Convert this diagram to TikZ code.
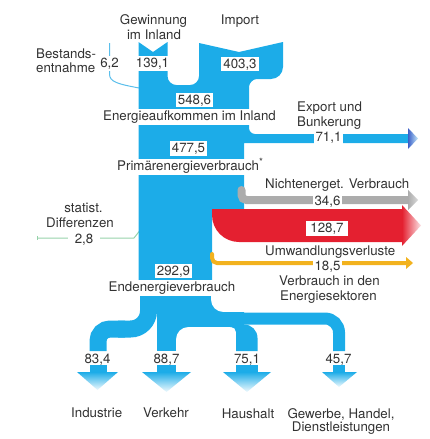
\documentclass[tikz,border=0pt]{standalone}
\usepackage{fontspec}
\setmainfont{TeX Gyre Heros}
\definecolor{mblue}{RGB}{28,172,232}
\definecolor{mred}{RGB}{228,32,48}
\definecolor{mgray}{RGB}{172,172,172}
\definecolor{mylw}{RGB}{242,178,30}
\definecolor{mgreen}{RGB}{150,210,170}
\definecolor{lblue}{RGB}{90,190,235}
\definecolor{txt}{RGB}{50,50,50}
\definecolor{expd}{RGB}{60,95,200}
\begin{document}
\begin{tikzpicture}[x=1pt,y=-1pt,
  lbl/.style={font=\fontsize{13.3}{15}\selectfont, text=txt, inner sep=0pt, anchor=base},
  num/.style={lbl, fill=white, inner xsep=2pt, inner ysep=1.8pt, text height=9.6pt, text depth=1pt},
  bandlbl/.style={lbl, fill=white, inner xsep=2pt, inner ysep=1.7pt, text height=9.8pt, text depth=2.8pt},
  flow/.style={fill=mblue},
  thinline/.style={line width=1pt}
]
\useasboundingbox (0,0) rectangle (430,439);

% thin side flows
\draw[thinline, lblue] (109.5,43) -- (109.5,74) .. controls (109.5,82) and (118,84) .. (139,88);
\draw[thinline, mgreen] (37,238) -- (134,238) -- (139.5,231);
\draw[thinline, mgreen] (37,236) -- (37,240);

% main trunk
\fill[flow] (138.5,42) -- (153,52) -- (167.5,42) -- (167.5,76)
  .. controls (167.5,81) and (171.5,85) .. (176.5,85) -- (190,85)
  .. controls (195,85) and (199,81) .. (199,76) -- (199,43) -- (239,52) -- (283,42) -- (283,67)
  .. controls (283,73.6) and (277.6,79) .. (271,79) -- (257,79)
  .. controls (252.6,79) and (249,83.4) .. (249,87) -- (249,128)
  .. controls (249,131.3) and (251.7,134) .. (255,134) -- (408,134) -- (408,143)
  -- (244,143) -- (244,209) -- (212,209) -- (212,290) -- (138.5,290) -- cycle;

% export head
\shade[left color=expd, right color=mblue!25] (408,128) -- (418,138.5) -- (408,149) -- cycle;

% non-energetic (gray)
\draw[mgray, line width=8pt, rounded corners=5pt, line cap=round] (241.5,190) -- (241.5,200) -- (408,200);
\shade[left color=mgray, right color=mgray!45] (408,190) -- (418,200) -- (408,210) -- cycle;

% conversion losses (red)
\fill[mred] (212,209) -- (402,209) -- (402,242) -- (239,242)
  .. controls (224.1,242) and (212,229.9) .. (212,215) -- cycle;
\shade[left color=mred, right color=mred!12] (402,205) -- (421,225.5) -- (402,246) -- cycle;

% energy sector (yellow)
\draw[mylw, line width=4pt, rounded corners=5pt, line cap=round] (212,254) -- (212,263) -- (407,263);
\fill[mylw] (406,257) -- (413,263) -- (406,269) -- cycle;

% lower part
\fill[flow] (140,294) rectangle (211,305);
\fill[flow] (176,294) rectangle (211,327);
\fill[flow] (176,312) rectangle (240,327);
\fill[flow] (157,294) rectangle (176,351);
\fill[flow] (211,312) -- (211,300) .. controls (211,306.6) and (216.4,312) .. (223,312) -- cycle;
\fill[flow] (176,327) -- (176,339) .. controls (176,332.4) and (181.4,327) .. (188,327) -- cycle;
\draw[mblue, line width=17pt, rounded corners=18pt] (148.5,294) -- (148.5,329) -- (118,329);
\draw[mblue, line width=17pt, rounded corners=12pt] (125,329) -- (98,329) -- (98,351);
\draw[mblue, line width=12pt, rounded corners=14pt] (230,318.5) -- (339,318.5) -- (339,351);
\fill[flow] (230,312) -- (244,312) -- (244,324.5) .. controls (251.5,324.5) and (257.5,330.5) .. (257.5,338)
  -- (257.5,351) -- (236,351) -- (236,332) .. controls (236,329.2) and (233.8,327) .. (231,327) -- (230,327) -- cycle;

% bottom arrows
\fill[flow] (89.5,365) rectangle (106.5,372);
\shade[top color=mblue, bottom color=mblue!6] (77,372) -- (118,372) -- (97.5,390) -- cycle;
\fill[flow] (157,365) rectangle (176,372);
\shade[top color=mblue, bottom color=mblue!6] (142,372) -- (191,372) -- (166.5,392) -- cycle;
\fill[flow] (236,365) rectangle (257.5,372);
\shade[top color=mblue, bottom color=mblue!6] (223,372) -- (271,372) -- (247,392) -- cycle;
\fill[flow] (333,365) rectangle (345,372);
\shade[top color=mblue, bottom color=mblue!6] (322,372) -- (357,372) -- (339,387) -- cycle;

% labels
\node[lbl] (gew1) at (153.5,24.7) {Gewinnung};
\node[lbl] (gew2) at (154,39) {im Inland};
\node[lbl] (imp) at (240,24.5) {Import};
\node[lbl, anchor=base west] (best1) at (36,58) {Bestands-};
\node[lbl, anchor=base west] (best2) at (36,72.7) {entnahme};
\node[num] (v62) at (109.5,67.7) {6,2};
\node[num] (v139) at (152.5,67.7) {139,1};
\node[num] (v403) at (240,68) {403,3};
\node[num] (v548) at (194.5,104) {548,6};
\node[bandlbl] (eai) at (189.5,120.7) {Energieaufkommen im Inland};
\node[lbl, anchor=base west] (exp1) at (297,111.7) {Export und};
\node[lbl, anchor=base west] (exp2) at (297,126.7) {Bunkerung};
\node[num] (v711) at (328.5,141.7) {71,1};
\node[num] (v477) at (188.5,152.7) {477,5};
\node[bandlbl, anchor=base west] (pev) at (115,170) {Primärenergieverbrauch\raisebox{4.5pt}{\fontsize{10}{10}\selectfont *}};
\node[lbl, anchor=base west] (nev) at (265,188.3) {Nichtenerget. Verbrauch};
\node[num] (v346) at (327.5,205) {34,6};
\node[num, inner xsep=4pt] (v1287) at (327,232.7) {128,7};
\node[lbl, anchor=base west] (uwv) at (265,255) {Umwandlungsverluste};
\node[num] (v185) at (327.5,270) {18,5};
\node[lbl, anchor=base west] (ves1) at (279,285) {Verbrauch in den};
\node[lbl, anchor=base west] (ves2) at (280,300) {Energiesektoren};
\node[lbl] (sd1) at (83.5,212.3) {statist.};
\node[lbl] (sd2) at (80,227.3) {Differenzen};
\node[num, inner xsep=7pt] (v28) at (84,243.3) {2,8};
\node[num] (v2929) at (173.5,275) {292,9};
\node[bandlbl] (eev) at (172,291) {Endenergieverbrauch};
\node[lbl] (v834) at (97.5,363.3) {83,4};
\node[lbl] (v887) at (166.5,363.3) {88,7};
\node[lbl] (v751) at (247,363.3) {75,1};
\node[lbl] (v457) at (338.5,363.3) {45,7};
\node[lbl] (ind) at (96.7,417.7) {Industrie};
\node[lbl] (ver) at (166,417.7) {Verkehr};
\node[lbl] (hau) at (248,418.3) {Haushalt};
\node[lbl] (gew) at (341,418.3) {Gewerbe, Handel,};
\node[lbl] (dien) at (341,431.7) {Dienstleistungen};
\end{tikzpicture}
\end{document}
